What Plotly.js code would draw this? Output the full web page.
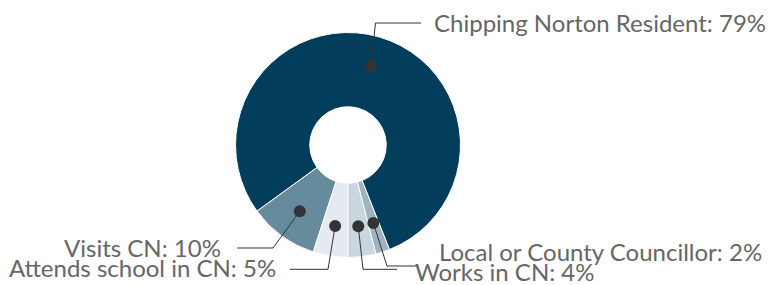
<!DOCTYPE html>
<html>
<head>
<meta charset="utf-8">
<script src="https://cdn.plot.ly/plotly-3.0.1.min.js"></script>
<style>html,body{margin:0;padding:0;background:#fff;}#chart{width:769px;height:285px;}</style>
</head>
<body>
<div id="chart"></div>
<script>
// ---- data ----
const categories = ["Chipping Norton Resident", "Visits CN", "Attends school in CN", "Works in CN", "Local or County Councillor"];
const values = [79, 10, 5, 4, 2];
const colors = ["#023e5b", "#668b9d", "#e4eaef", "#c9d6de", "#9eb4c2"];

// ---- layout constants (pixels) ----
const W = 769, H = 285;
const CX = 348, CY = 145, R = 112.5, HOLE = 0.34;
const START = 158.4;              // angle (clockwise from 12 o'clock) where the counterclockwise sweep begins
const DOT_R = 82;                 // distance of label dots from the centre
// leader-line elbow / end points and label anchors
const labelPos = [
  {ex: 375.5, ey: 23,    endx: 421, tx: 432, ty: 22,    anchor: "left"},
  {ex: 273,   ey: 248,   endx: 237, tx: 223, ty: 247,   anchor: "right"},
  {ex: 328,   ey: 269.3, endx: 290, tx: 278, ty: 267,   anchor: "right"},
  {ex: 363,   ey: 269.3, endx: 397, tx: 413, ty: 271,   anchor: "left"},
  {ex: 387,   ey: 266,   endx: 418, tx: 437, ty: 251.5, anchor: "left"}
];

const total = values.reduce((a, b) => a + b, 0);
const shapes = [];
const annotations = [];
let cum = 0;
values.forEach((v, i) => {
  // counterclockwise from START
  const a0 = START - cum / total * 360;
  const a1 = START - (cum + v) / total * 360;
  cum += v;
  const mid = (a0 + a1) / 2 * Math.PI / 180;
  const dx = CX + DOT_R * Math.sin(mid);
  const dy = CY - DOT_R * Math.cos(mid);
  const p = labelPos[i];
  shapes.push({
    type: "path", xref: "x", yref: "y", layer: "above",
    path: `M ${dx} ${dy} L ${p.ex} ${p.ey} L ${p.endx} ${p.ey}`,
    line: {color: "#333333", width: 1}
  });
  const dr = 6;
  shapes.push({
    type: "circle", xref: "x", yref: "y", layer: "above",
    x0: dx - dr, x1: dx + dr, y0: dy - dr, y1: dy + dr,
    fillcolor: "#333333", line: {width: 0}
  });
  annotations.push({
    xref: "x", yref: "y", x: p.tx, y: p.ty,
    xanchor: p.anchor, yanchor: "middle", showarrow: false,
    text: categories[i] + ": " + Math.round(v / total * 100) + "%",
    font: {family: "Lato, 'Open Sans', sans-serif", size: 24, color: "#666666"}
  });
});

// Plotly (counterclockwise) ends the first slice at `rotation`
let rot = START - values[0] / total * 360 + 360;
if (rot > 360) rot -= 360;

const data = [{
  type: "pie",
  labels: categories,
  values: values,
  sort: false,
  direction: "counterclockwise",
  rotation: rot,
  hole: HOLE,
  textinfo: "none",
  hoverinfo: "none",
  showlegend: false,
  marker: {colors: colors, line: {color: "#ffffff", width: 1}},
  domain: {
    x: [(CX - R) / W, (CX + R) / W],
    y: [(H - CY - R) / H, (H - CY + R) / H]
  }
}];

const layout = {
  width: W, height: H,
  margin: {l: 0, r: 0, t: 0, b: 0},
  paper_bgcolor: "#ffffff", plot_bgcolor: "rgba(0,0,0,0)",
  xaxis: {range: [0, W], visible: false, fixedrange: true},
  yaxis: {range: [H, 0], visible: false, fixedrange: true},
  shapes: shapes,
  annotations: annotations,
  showlegend: false
};

Plotly.newPlot("chart", data, layout, {staticPlot: true, displayModeBar: false});
</script>
</body>
</html>
